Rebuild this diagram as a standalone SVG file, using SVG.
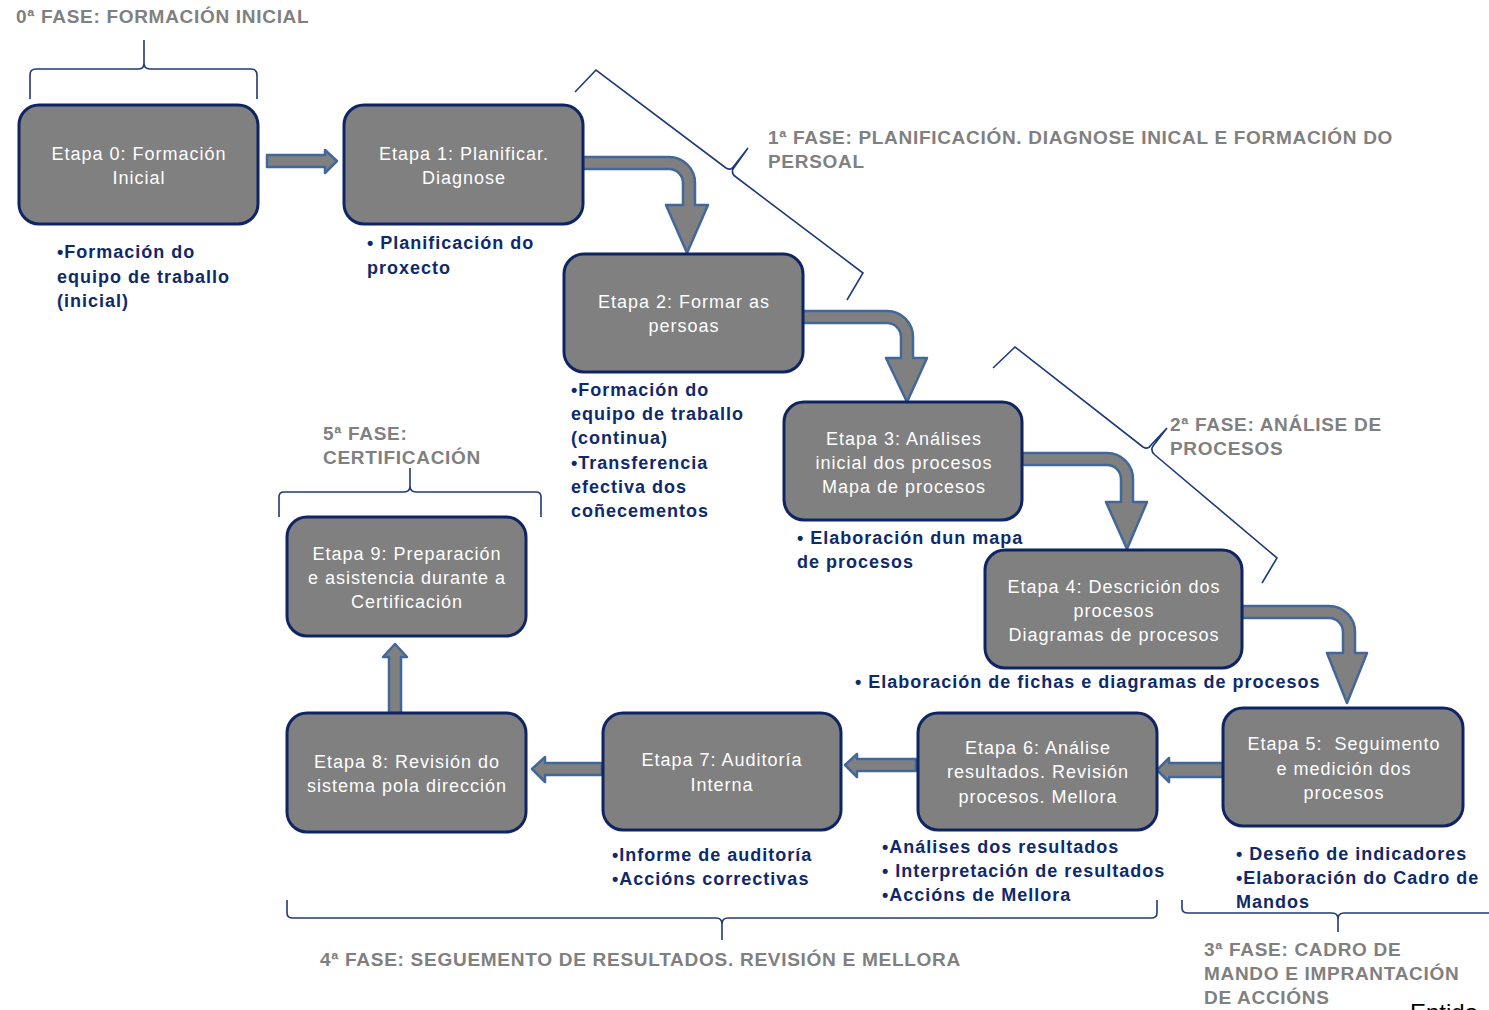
<svg xmlns="http://www.w3.org/2000/svg" width="1489" height="1010" viewBox="0 0 1489 1010">
<style>
.node{fill:#808080;stroke:#0f2463;stroke-width:3}
.nt{font-family:"Liberation Sans",Arial,sans-serif;font-size:18px;fill:#ffffff;text-anchor:middle;letter-spacing:1px}
.bt{font-family:"Liberation Sans",Arial,sans-serif;font-size:18px;font-weight:bold;fill:#0f2a6b;letter-spacing:1px}
.gt{font-family:"Liberation Sans",Arial,sans-serif;font-size:19px;font-weight:bold;fill:#808080;letter-spacing:0.7px}
.arr{fill:#808080;stroke:#41679b;stroke-width:2.5;stroke-linejoin:round}
.br{fill:none;stroke:#1f3a7a;stroke-width:1.6}
</style>
<rect width="1489" height="1010" fill="#ffffff"/>

<g id="braces">
<path class="br" d="M30,99 V75 Q30,69 36,69 H139 Q144,69 144,63 V40 M144,63 Q144,69 150,69 H251 Q257,69 257,75 V99"/>
<path class="br" d="M575,92 L596,70 L726,168 Q731,171 734,166 L748,148 M748,148 L733,169 Q731,174 736,177 L863,273 L847,300"/>
<path class="br" d="M993,368 L1015,347 L1143,447 Q1148,450 1151,445 L1167,428 M1167,428 L1153,446 Q1150,451 1155,455 L1277,558 L1262,583"/>
<path class="br" d="M279,517 V497 Q279,492 284,492 H404 Q410,492 410,486 V468 M410,486 Q410,492 416,492 H536 Q541,492 541,497 V517"/>
<path class="br" d="M287,900 V913 Q287,918 293,918 H716 Q722,918 722,924 V940 M722,924 Q722,918 728,918 H1151 Q1157,918 1157,913 V900"/>
<path class="br" d="M1182,900 V908 Q1182,913 1188,913 H1332 Q1338,913 1338,919 V932 M1338,919 Q1338,913 1344,913 H1489"/>
</g>

<g id="connectors">
<path class="arr" d="M267,155 H325 V150 L337,161 L325,173 V167 H267 Z"/>
<path class="arr" d="M583,157 H669 A26,26 0 0 1 695,183 V205 H708 L687,253 L666,205 H683 V183 A14,14 0 0 0 669,169 H583 Z"/>
<path class="arr" d="M803,311 H887 A26,26 0 0 1 913,337 V358 H927 L907,402 L886,358 H901 V337 A14,14 0 0 0 887,323 H803 Z"/>
<path class="arr" d="M1022,453 H1107 A26,26 0 0 1 1133,479 V502 H1147 L1127,549 L1106,502 H1121 V479 A14,14 0 0 0 1107,465 H1022 Z"/>
<path class="arr" d="M1242,606 H1329 A26,26 0 0 1 1355,632 V653 H1367 L1347,703 L1327,653 H1343 V632 A14,14 0 0 0 1329,618 H1242 Z"/>
<path class="arr" d="M1223,763 H1169 V758 L1157,770 L1169,782 V777 H1223 Z"/>
<path class="arr" d="M916,759 H857 V754 L845,765 L857,777 V771 H916 Z"/>
<path class="arr" d="M602,763 H545 V757 L532,769 L545,782 V775 H602 Z"/>
<path class="arr" d="M389,713 V657 H383 L395,644 L407,657 H401 V713 Z"/>
</g>

<g id="n0"><rect class="node" x="19" y="105" width="239" height="119" rx="20"/>
<text class="nt" x="139" y="160">Etapa 0: Formación</text><text class="nt" x="139" y="184">Inicial</text></g>
<g id="n1"><rect class="node" x="344" y="105" width="239" height="119" rx="20"/>
<text class="nt" x="464" y="160">Etapa 1: Planificar.</text><text class="nt" x="464" y="184">Diagnose</text></g>
<g id="n2"><rect class="node" x="564" y="254" width="239" height="118" rx="20"/>
<text class="nt" x="684" y="308">Etapa 2: Formar as</text><text class="nt" x="684" y="332">persoas</text></g>
<g id="n3"><rect class="node" x="784" y="402" width="238" height="118" rx="20"/>
<text class="nt" x="904" y="445">Etapa 3: Análises</text><text class="nt" x="904" y="469">inicial dos procesos</text><text class="nt" x="904" y="493">Mapa de procesos</text></g>
<g id="n4"><rect class="node" x="985" y="550" width="257" height="118" rx="20"/>
<text class="nt" x="1114" y="593">Etapa 4: Descrición dos</text><text class="nt" x="1114" y="617">procesos</text><text class="nt" x="1114" y="641">Diagramas de procesos</text></g>
<g id="n5"><rect class="node" x="1223" y="708" width="240" height="118" rx="20"/>
<text class="nt" x="1344" y="750" xml:space="preserve">Etapa 5:  Seguimento</text><text class="nt" x="1344" y="775">e medición dos</text><text class="nt" x="1344" y="799">procesos</text></g>
<g id="n6"><rect class="node" x="918" y="713" width="239" height="117" rx="20"/>
<text class="nt" x="1038" y="754">Etapa 6: Análise</text><text class="nt" x="1038" y="778">resultados. Revisión</text><text class="nt" x="1038" y="803">procesos. Mellora</text></g>
<g id="n7"><rect class="node" x="603" y="713" width="238" height="117" rx="20"/>
<text class="nt" x="722" y="766">Etapa 7: Auditoría</text><text class="nt" x="722" y="791">Interna</text></g>
<g id="n8"><rect class="node" x="287" y="713" width="239" height="119" rx="20"/>
<text class="nt" x="407" y="768">Etapa 8: Revisión do</text><text class="nt" x="407" y="792">sistema pola dirección</text></g>
<g id="n9"><rect class="node" x="287" y="517" width="239" height="119" rx="20"/>
<text class="nt" x="407" y="560">Etapa 9: Preparación</text><text class="nt" x="407" y="584">e asistencia durante a</text><text class="nt" x="407" y="608">Certificación</text></g>

<g id="notes">
<text class="bt" x="57" y="258">•Formación do</text><text class="bt" x="57" y="283">equipo de traballo</text><text class="bt" x="57" y="307">(inicial)</text>
<text class="bt" x="367" y="249">• Planificación do</text><text class="bt" x="367" y="274">proxecto</text>
<text class="bt" x="571" y="396">•Formación do</text><text class="bt" x="571" y="420">equipo de traballo</text><text class="bt" x="571" y="444">(continua)</text><text class="bt" x="571" y="469">•Transferencia</text><text class="bt" x="571" y="493">efectiva dos</text><text class="bt" x="571" y="517">coñecementos</text>
<text class="bt" x="797" y="544">• Elaboración dun mapa</text><text class="bt" x="797" y="568">de procesos</text>
<text class="bt" x="855" y="688">• Elaboración de fichas e diagramas de procesos</text>
<text class="bt" x="612" y="861">•Informe de auditoría</text><text class="bt" x="612" y="885">•Accións correctivas</text>
<text class="bt" x="882" y="853">•Análises dos resultados</text><text class="bt" x="882" y="877">• Interpretación de resultados</text><text class="bt" x="882" y="901">•Accións de Mellora</text>
<text class="bt" x="1236" y="860">• Deseño de indicadores</text><text class="bt" x="1236" y="884">•Elaboración do Cadro de</text><text class="bt" x="1236" y="908">Mandos</text>
</g>

<g id="phases">
<text class="gt" x="16" y="23">0ª FASE: FORMACIÓN INICIAL</text>
<text class="gt" x="768" y="144">1ª FASE: PLANIFICACIÓN. DIAGNOSE INICAL E FORMACIÓN DO</text><text class="gt" x="768" y="168">PERSOAL</text>
<text class="gt" x="1170" y="431">2ª FASE: ANÁLISE DE</text><text class="gt" x="1170" y="455">PROCESOS</text>
<text class="gt" x="323" y="440">5ª FASE:</text><text class="gt" x="323" y="464">CERTIFICACIÓN</text>
<text class="gt" x="320" y="966" textLength="641" lengthAdjust="spacingAndGlyphs">4ª FASE: SEGUEMENTO DE RESULTADOS. REVISIÓN E MELLORA</text>
<text class="gt" x="1204" y="956">3ª FASE: CADRO DE</text><text class="gt" x="1204" y="980">MANDO E IMPRANTACIÓN</text><text class="gt" x="1204" y="1004">DE ACCIÓNS</text>
<text x="1410" y="1021" font-family="'Liberation Sans',Arial,sans-serif" font-size="24" fill="#000000">Entida</text>
</g>
</svg>
